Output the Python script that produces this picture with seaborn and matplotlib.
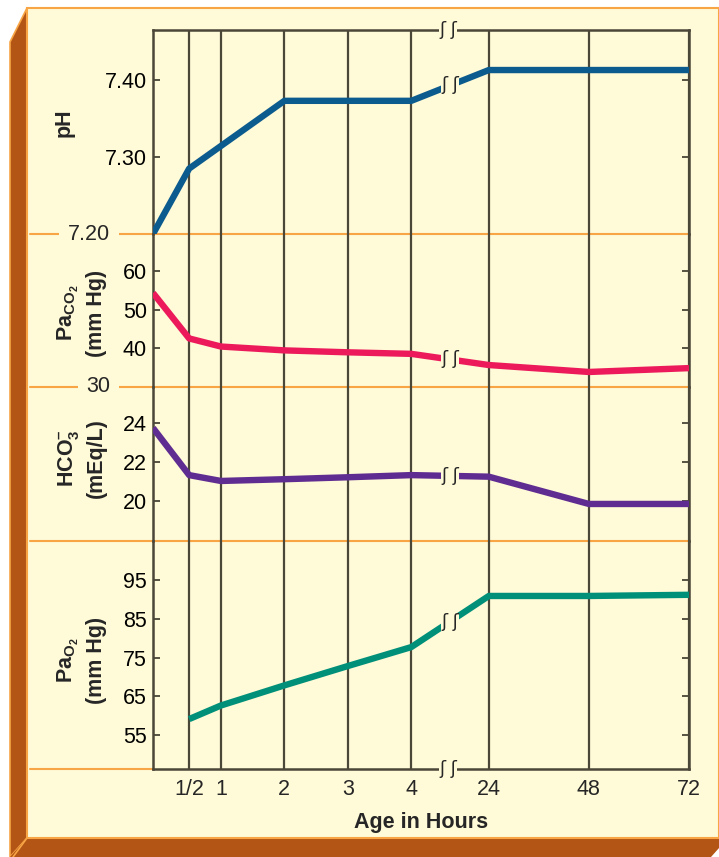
import numpy as np
import matplotlib
matplotlib.use('Agg')
import matplotlib.pyplot as plt
import matplotlib.transforms as mtransforms
from matplotlib.patches import Polygon
from matplotlib.lines import Line2D
import seaborn as sns

# --- values ---
hours_ph = [0, 0.5, 2, 3, 4, 24, 48, 72]
ph = [7.20, 7.285, 7.373, 7.373, 7.373, 7.413, 7.413, 7.413]

hours_co2 = [0, 0.5, 1, 2, 3, 4, 24, 48, 72]
paco2 = [54.4, 42.6, 40.5, 39.5, 39.0, 38.6, 35.7, 33.9, 34.9]

hours_hco3 = [0, 0.5, 1, 2, 3, 4, 24, 48, 72]
hco3 = [23.75, 21.33, 21.03, 21.12, 21.22, 21.33, 21.25, 19.85, 19.85]

hours_o2 = [0.5, 1, 2, 3, 4, 24, 48, 72]
pao2 = [59.1, 62.6, 67.8, 72.8, 77.7, 90.9, 90.9, 91.2]

x_ticks = [0.5, 1, 2, 3, 4, 24, 48, 72]
x_labels = ['1/2', '1', '2', '3', '4', '24', '48', '72']

# --- colours ---
cream = '#FFFAD7'
brown = '#B35515'
orange = '#F7A545'
dark = '#4A4638'
FS = 15.5

sns.set_theme(style='white')
plt.rcParams['font.family'] = ['Liberation Sans', 'DejaVu Sans']
plt.rcParams['font.size'] = FS
plt.rcParams['mathtext.fontset'] = 'custom'
plt.rcParams['mathtext.rm'] = 'Liberation Sans'
plt.rcParams['mathtext.bf'] = 'Liberation Sans:bold'

# broken time axis: 0-4 h roughly linear, a short gap, then 24-72 h compressed
knots_h = [0, 0.5, 4, 24, 72]
knots_p = [0, 0.56, 4, 5.2, 8.3]


def fwd(x):
    return np.interp(x, knots_h, knots_p)


def inv(p):
    return np.interp(p, knots_p, knots_h)


W, H = 719, 857
fig = plt.figure(figsize=(W / 100, H / 100), dpi=100)
fig.patch.set_facecolor('white')


def px(x, y):
    return (x / W, 1 - y / H)


# card background with the brown 3D edge
fig.add_artist(Polygon([px(10, 42), px(27, 8), px(27, 838), px(10, 857)], closed=True,
                       transform=fig.transFigure, facecolor=brown, edgecolor=orange, lw=1.2, zorder=-10))
fig.add_artist(Polygon([px(27, 838), px(719, 838), px(719, 848), px(711, 857), px(10, 857)], closed=True,
                       transform=fig.transFigure, facecolor=brown, edgecolor='none', zorder=-10))
fig.add_artist(Polygon([px(27, 8), px(719, 8), px(719, 838), px(27, 838)], closed=True,
                       transform=fig.transFigure, facecolor=cream, edgecolor=orange, lw=1.5, zorder=-9))
fig.add_artist(Line2D([px(27, 838)[0], px(13, 857)[0]], [px(27, 838)[1], px(13, 857)[1]],
                      transform=fig.transFigure, color=orange, lw=1.2, zorder=-8))

axes = fig.subplots(4, 1, sharex=True, gridspec_kw=dict(
    height_ratios=[204, 153, 154, 228], hspace=0,
    left=153 / W, right=689 / W, top=1 - 30 / H, bottom=1 - 769 / H))

panels = [
    (hours_ph, ph, '#0B5B8F', (7.20, 7.465), [7.30, 7.40], ['7.30', '7.40'], 'pH', '7.20'),
    (hours_co2, paco2, '#EC1A5B', (30, 69.7), [40, 50, 60], ['40', '50', '60'],
     '$\\mathbf{Pa}_{\\mathbf{CO}_{\\mathbf{2}}}$\n(mm Hg)', '30'),
    (hours_hco3, hco3, '#5F2C91', (17.95, 25.85), [20, 22, 24], ['20', '22', '24'],
     '$\\mathbf{HCO}_{\\mathbf{3}}^{\\mathbf{\u2013}}$\n(mEq/L)', None),
    (hours_o2, pao2, '#00907A', (46.2, 105.1), [55, 65, 75, 85, 95], ['55', '65', '75', '85', '95'],
     '$\\mathbf{Pa}_{\\mathbf{O}_{\\mathbf{2}}}$\n(mm Hg)', None),
]
label_pos = [(-0.166, 0.544), (-0.134, 0.484), (-0.134, 0.539), (-0.134, 0.478)]
brk = '\u0283 \u0283'

for i, (ax, (hx, hy, col, ylim, yt, ytl, ylab, edge_lab)) in enumerate(zip(axes, panels)):
    ax.set_facecolor('none')
    ax.set_xscale('function', functions=(fwd, inv))
    sns.lineplot(x=hx, y=hy, ax=ax, color=col, linewidth=4.6, solid_capstyle='butt',
                 solid_joinstyle='round', zorder=3)
    ax.set_xlim(0, 72)
    ax.set_ylim(*ylim)
    ax.set_yticks(yt)
    ax.set_yticklabels(ytl)
    ax.set_xticks(x_ticks)
    ax.grid(axis='x', color=dark, linewidth=1.6)
    ax.grid(axis='y', visible=False)
    ax.tick_params(axis='y', direction='in', length=5, width=1.3, color=dark,
                   left=True, right=True, labelsize=FS, pad=4.5, labelcolor='black')
    ax.tick_params(axis='x', length=0, labelsize=FS, pad=7)
    ax.set_ylabel('')
    for side in ['left', 'right']:
        ax.spines[side].set_color(dark)
        ax.spines[side].set_linewidth(1.8)
    ax.spines['top'].set_visible(i == 0)
    ax.spines['bottom'].set_visible(i == 3)
    for side in ['top', 'bottom']:
        ax.spines[side].set_color(dark)
        ax.spines[side].set_linewidth(1.8)

    # orange band separator under each panel
    x_end = 0 if i == 3 else 1
    ax.add_line(Line2D([-0.2295, x_end], [0, 0], transform=ax.transAxes, color=orange,
                       lw=1.5, clip_on=False, zorder=0.3))
    if edge_lab:
        ax.text(-0.080, 0, edge_lab, transform=ax.transAxes, ha='right', va='center', fontsize=FS,
                bbox=dict(boxstyle='square,pad=0.4', facecolor=cream, edgecolor='none'), zorder=5)

    lx, ly = label_pos[i]
    ax.text(lx, ly, ylab, transform=ax.transAxes, rotation=90, ha='center', va='center',
            multialignment='center', fontsize=FS, fontweight='bold', linespacing=1.3)

    # break symbol on the data line between 4 h and 24 h
    y_mid = (hy[hx.index(4)] + hy[hx.index(24)]) / 2
    ax.text(14, y_mid, brk, ha='center', va='center', fontsize=13,
            family=['DejaVu Sans'], zorder=6,
            bbox=dict(boxstyle='square,pad=0', facecolor=cream, edgecolor='none'))

# break symbols on the top and bottom frame
for ax, yy in [(axes[0], 1), (axes[3], 0)]:
    tr = mtransforms.blended_transform_factory(ax.transData, ax.transAxes)
    ax.text(13.5, yy, brk, transform=tr, ha='center', va='center', fontsize=13,
            family=['DejaVu Sans'], zorder=6, clip_on=False,
            bbox=dict(boxstyle='square,pad=0', facecolor=cream, edgecolor='none'))

axes[3].set_xticklabels(x_labels)
axes[3].set_xlabel('Age in Hours', fontsize=FS, fontweight='bold', labelpad=9)

fig.savefig('out.png', dpi=100, facecolor=fig.get_facecolor())
